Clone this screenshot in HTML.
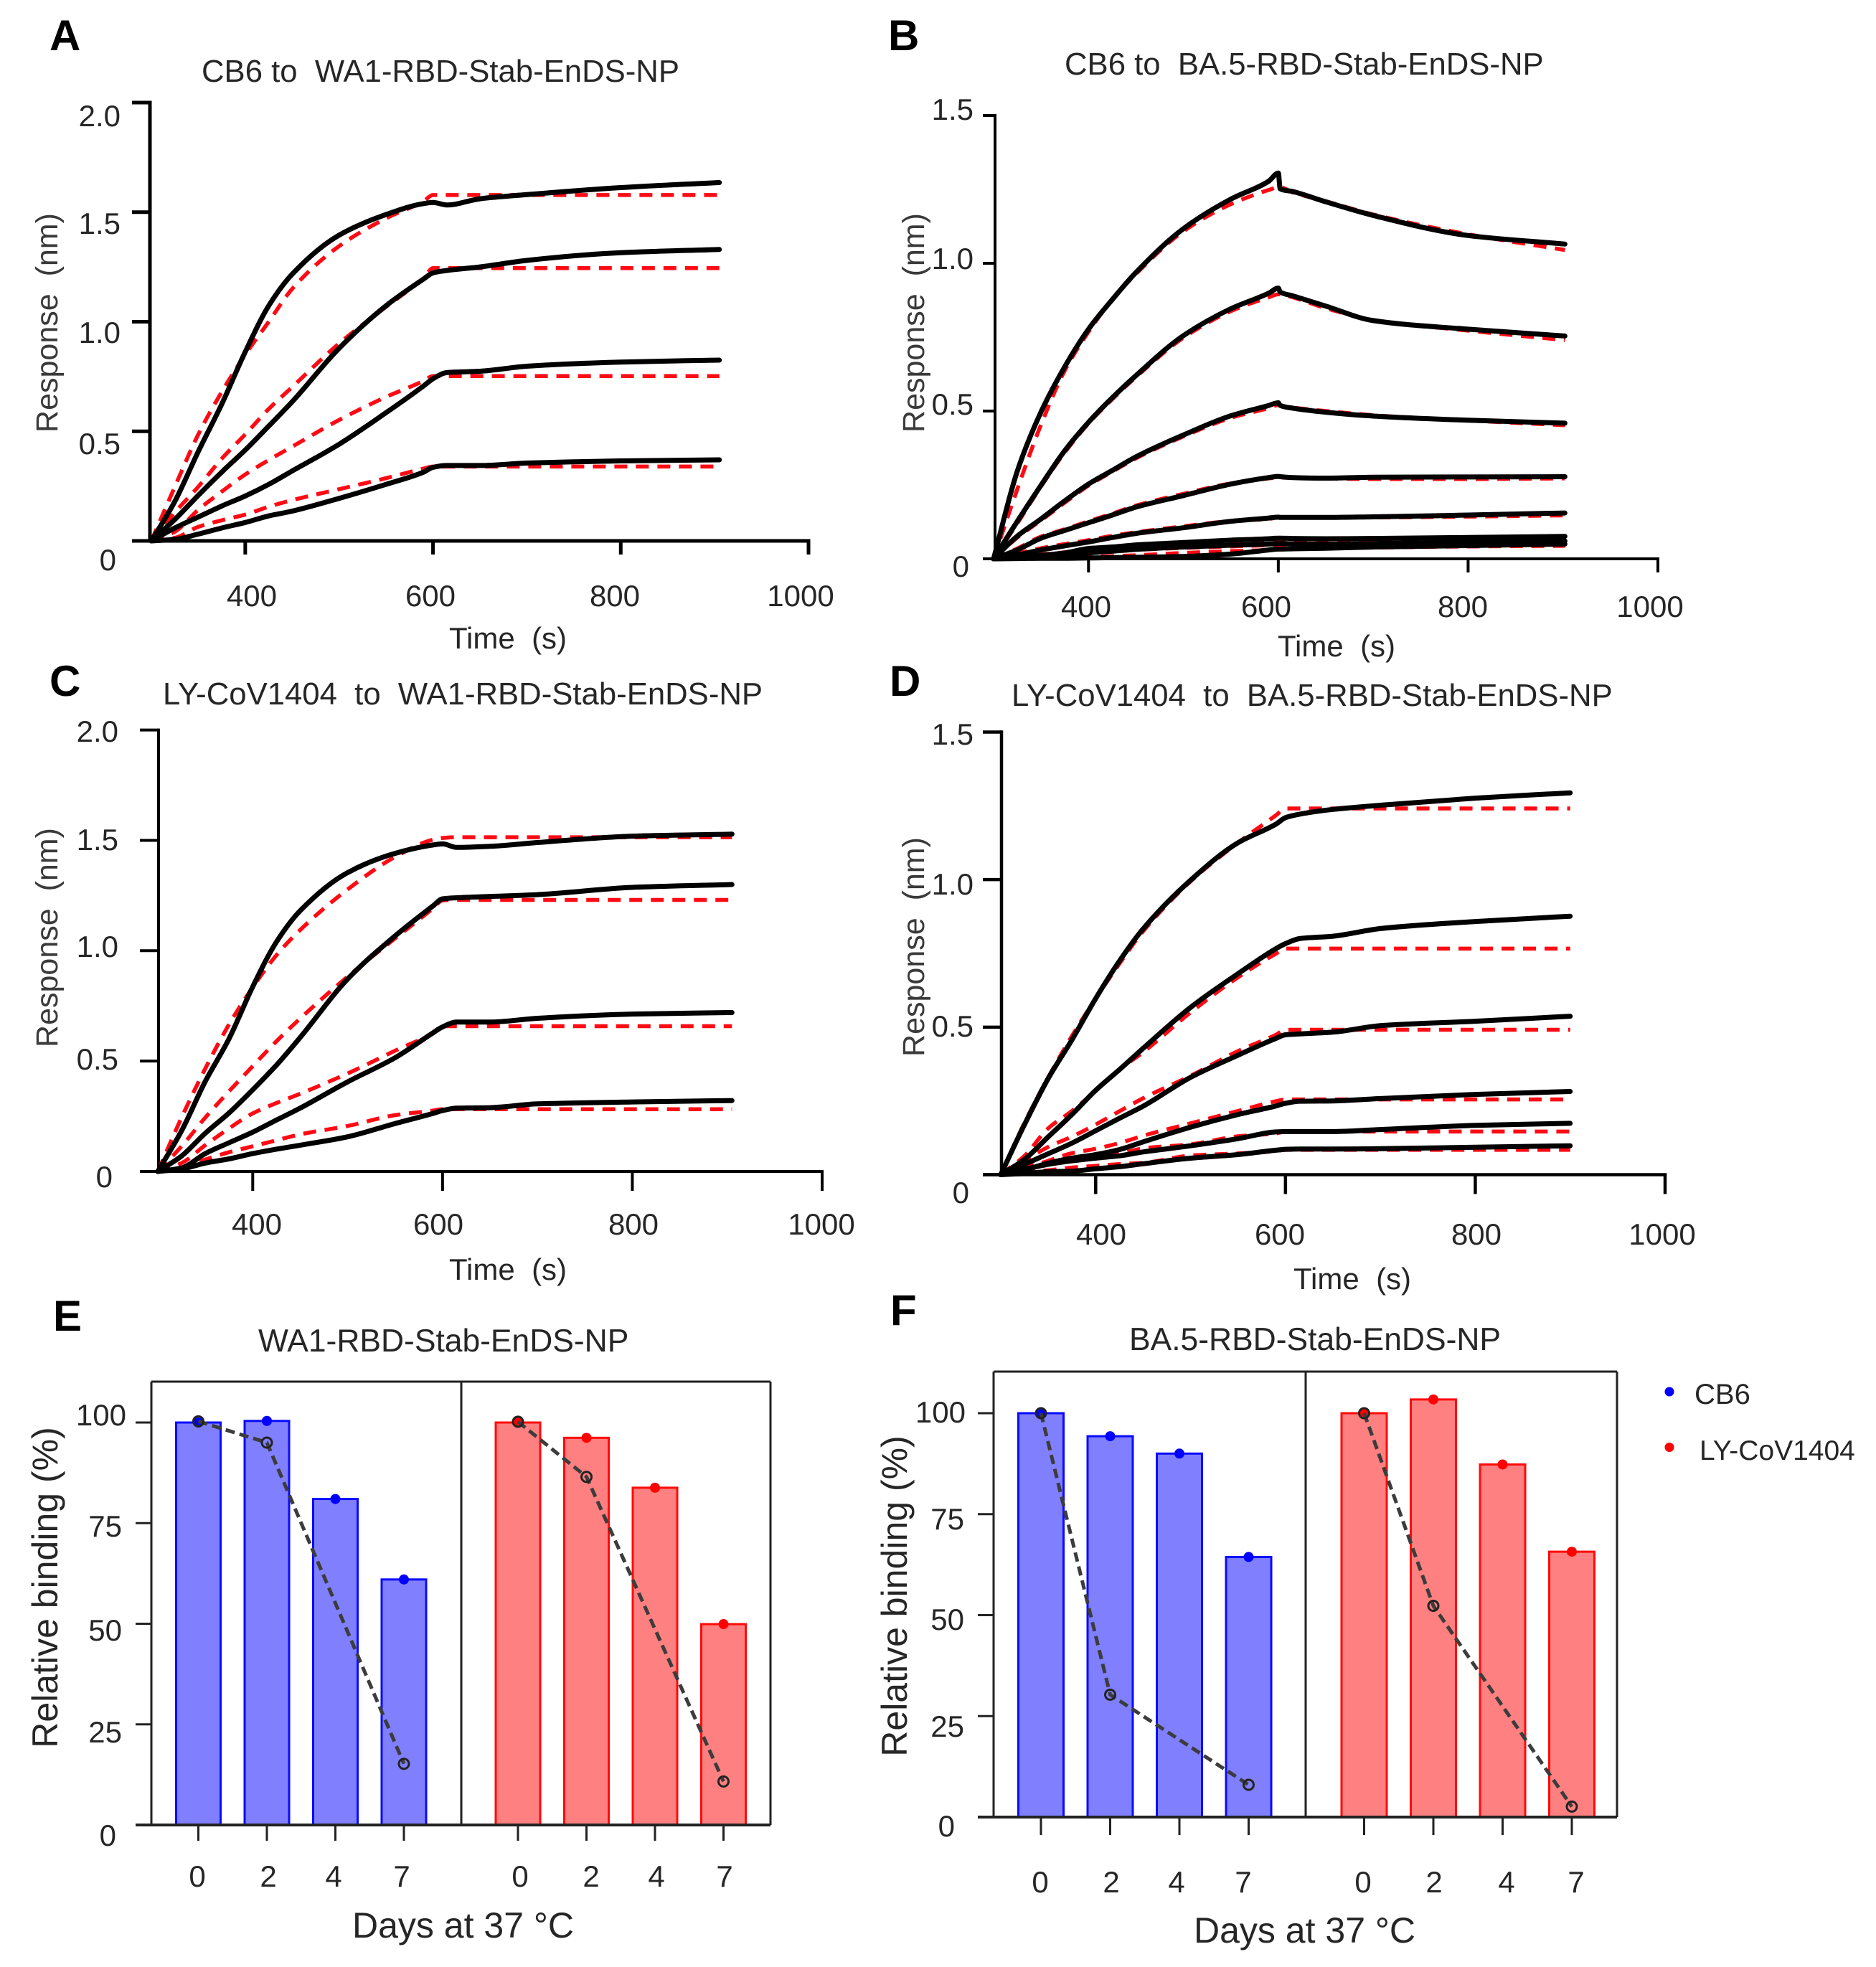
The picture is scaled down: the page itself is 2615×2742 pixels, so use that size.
<!DOCTYPE html>
<html lang="en">
<head>
<meta charset="utf-8">
<title>Antibody binding kinetics and stability of RBD nanoparticles</title>
<style>
html,body{margin:0;padding:0;background:#fff;}
#figure{display:block;width:2615px;height:2742px;background:#fff;}
text{font-family:"Liberation Sans",Arial,sans-serif;fill:#262626;white-space:pre;}
</style>
</head>
<body>
<svg id="figure" xmlns="http://www.w3.org/2000/svg" width="2615" height="2742" viewBox="0 0 2615 2742"></svg>
<script>
/* ---------- Kinetic data (time in s, response in nm) ---------- */
const timesA = [300,325,350,375,400,425,450,500,550,590,600,615,650,700,800,905];
const observedA = [
  [0,.18,.408,.624,.863,1.073,1.217,1.395,1.489,1.539,1.544,1.533,1.561,1.58,1.612,1.635],
  [0,.098,.208,.314,.415,.524,.635,.879,1.073,1.195,1.223,1.234,1.25,1.28,1.315,1.33],
  [0,.059,.109,.159,.205,.258,.319,.441,.585,.707,.74,.768,.774,.797,.816,.825],
  [0,.007,.031,.059,.084,.114,.136,.194,.258,.314,.336,.344,.344,.355,.365,.37]
];
const fitA = [
  [0,.247,.486,.68,.85,1.0,1.15,1.345,1.472,1.55,1.578,1.578,1.578,1.578,1.578,1.578],
  [0,.13,.247,.375,.486,.602,.702,.901,1.068,1.2,1.245,1.245,1.245,1.245,1.245,1.245],
  [0,.042,.142,.225,.303,.369,.43,.552,.657,.73,.752,.752,.752,.752,.752,.752],
  [0,.014,.064,.094,.12,.156,.186,.236,.286,.33,.339,.339,.339,.339,.339,.339]
];

const timesB = [300,325,350,375,400,425,450,500,550,590,600,602,615,650,700,800,902];
const observedB = [
  [0,.297,.497,.65,.777,.877,.969,1.117,1.217,1.278,1.305,1.252,1.243,1.208,1.162,1.094,1.065],
  [0,.127,.249,.366,.462,.545,.62,.755,.846,.899,.916,.903,.89,.855,.806,.777,.754],
  [0,.077,.135,.196,.253,.299,.345,.419,.484,.519,.528,.519,.51,.496,.483,.469,.459],
  [0,.03,.07,.096,.122,.148,.175,.214,.253,.275,.279,.278,.275,.273,.276,.277,.278],
  [0,.013,.03,.044,.057,.072,.086,.105,.127,.138,.141,.14,.14,.14,.142,.148,.155],
  [0,.006,.012,.02,.035,.04,.047,.055,.063,.068,.07,.07,.069,.068,.069,.072,.076],
  [0,.003,.006,.012,.02,.026,.032,.04,.046,.05,.052,.052,.051,.05,.052,.056,.06],
  [0,.001,.002,.002,.003,.004,.005,.008,.016,.03,.033,.033,.034,.036,.04,.045,.05]
];
const fitB = [
  [0,.236,.454,.637,.768,.877,.964,1.108,1.2,1.248,1.257,1.257,1.24,1.21,1.165,1.098,1.045],
  [0,.12,.245,.36,.458,.54,.615,.748,.838,.885,.895,.895,.885,.848,.808,.772,.74],
  [0,.072,.13,.19,.248,.295,.34,.414,.477,.51,.52,.518,.512,.5,.486,.468,.452],
  [0,.035,.075,.1,.127,.153,.18,.22,.255,.272,.275,.275,.274,.272,.27,.27,.272],
  [0,.018,.036,.05,.063,.078,.09,.11,.128,.135,.14,.14,.14,.14,.14,.143,.147],
  [0,.008,.015,.022,.03,.036,.043,.05,.056,.06,.062,.062,.062,.062,.062,.06,.058],
  [0,.004,.008,.014,.02,.024,.03,.037,.042,.046,.047,.047,.047,.047,.047,.05,.05],
  [0,.001,.002,.004,.006,.009,.012,.02,.026,.03,.034,.034,.034,.036,.038,.042,.044]
];

const timesC = [300,325,350,375,400,425,450,500,550,590,600,615,650,700,800,905];
const observedC = [
  [0,.184,.408,.601,.837,1.04,1.181,1.354,1.441,1.479,1.484,1.468,1.473,1.49,1.519,1.528],
  [0,.07,.173,.265,.37,.482,.607,.872,1.067,1.203,1.235,1.24,1.246,1.254,1.287,1.30],
  [0,.016,.081,.13,.178,.233,.287,.406,.515,.628,.655,.677,.677,.694,.713,.72],
  [0,.011,.038,.057,.081,.101,.119,.157,.217,.263,.276,.287,.289,.306,.315,.321]
];
const fitC = [
  [0,.244,.466,.666,.834,.98,1.094,1.278,1.425,1.503,1.511,1.514,1.514,1.514,1.514,1.514],
  [0,.114,.244,.363,.477,.59,.693,.883,1.056,1.192,1.228,1.23,1.23,1.23,1.23,1.23],
  [0,.038,.119,.195,.263,.31,.352,.444,.547,.628,.658,.658,.658,.658,.658,.658],
  [0,.016,.054,.087,.114,.141,.168,.206,.255,.276,.282,.282,.282,.282,.282,.282]
];

const timesD = [300,325,350,375,400,425,450,500,550,590,600,615,650,700,800,900];
const observedD = [
  [0,.17,.326,.457,.597,.724,.833,.998,1.125,1.188,1.21,1.222,1.238,1.252,1.276,1.294],
  [0,.052,.128,.204,.286,.356,.428,.567,.681,.766,.783,.8,.808,.834,.858,.876],
  [0,.035,.071,.107,.149,.191,.232,.33,.405,.462,.474,.477,.483,.505,.52,.537],
  [0,.016,.039,.056,.068,.085,.111,.161,.204,.233,.242,.249,.25,.258,.272,.282],
  [0,.018,.035,.047,.056,.064,.077,.098,.122,.145,.146,.146,.146,.153,.167,.174],
  [0,.004,.01,.012,.02,.027,.037,.056,.068,.083,.086,.087,.087,.088,.093,.098]
];
const fitD = [
  [0,.176,.33,.47,.597,.715,.825,.994,1.125,1.218,1.241,1.241,1.241,1.241,1.241,1.241],
  [0,.064,.157,.216,.284,.356,.415,.55,.669,.749,.766,.766,.766,.766,.766,.766],
  [0,.047,.094,.129,.17,.215,.259,.335,.419,.474,.491,.491,.491,.491,.491,.491],
  [0,.018,.047,.073,.088,.107,.132,.174,.216,.249,.255,.255,.255,.255,.255,.255],
  [0,.025,.045,.055,.064,.072,.089,.103,.13,.14,.146,.146,.146,.146,.146,.146],
  [0,.008,.015,.024,.03,.036,.04,.065,.072,.08,.084,.084,.084,.084,.084,.084]
];

/* ---------- Axis ticks ---------- */
const timeTicks = [400,600,800,1000];
const timeTickLabels = ['400','600','800','1000'];
const responseTicks2 = [0,0.5,1,1.5,2];
const responseTickLabels2 = ['0','0.5','1.0','1.5','2.0'];
const responseTicks15 = [0,0.5,1,1.5];
const responseTickLabels15 = ['0','0.5','1.0','1.5'];
const bindingTicks = [0,25,50,75,100];
const bindingTickLabels = ['0','25','50','75','100'];

/* ---------- Stability data (relative binding, %) ---------- */
const days = ['0','2','4','7'];
const barsECB6 = [100,100.4,81,61];
const barsELY = [100,96.2,83.8,49.9];
const lineECB6 = [100.3,95,null,15.2];
const lineELY = [100.2,86.5,null,10.8];
const barsFCB6 = [100,94.3,90,64.4];
const barsFLY = [100,103.4,87.3,65.7];
const lineFCB6 = [100,30.3,null,8];
const lineFLY = [100,52.3,null,2.6];

/* ---------- Drawing helpers ---------- */
const svg = document.getElementById('figure');
function mk(parent, tag, name, attrs) {
  const el = document.createElementNS('http://www.w3.org/2000/svg', tag);
  
  
  for (const k in attrs) el.setAttribute(k, attrs[k]);
  parent.appendChild(el);
  return el;
}
function label(parent, name, str, x, y, size, anchor, opts) {
  const o = opts || {};
  const a = {x: x, y: y, 'font-size': size, 'text-anchor': anchor || 'start'};
  if (o.weight) a['font-weight'] = o.weight;
  if (o.fill) a.style = 'fill:' + o.fill;
  if (o.rotate) a.transform = 'rotate(-90 ' + x + ' ' + y + ')';
  const t = mk(parent, 'text', name, a);
  t.textContent = str;
  return t;
}
function axisLine(parent, name, x1, y1, x2, y2, w, color) {
  return mk(parent, 'line', name, {x1: x1, y1: y1, x2: x2, y2: y2, stroke: color || '#000', 'stroke-width': w});
}
/* Monotone cubic path through the mapped data points (no overshoot at the kink). */
function smoothPath(xs, ys) {
  const n = xs.length, dx = [], m = [], tan = [];
  for (let i = 0; i < n - 1; i++) {
    dx[i] = xs[i + 1] - xs[i];
    m[i] = (ys[i + 1] - ys[i]) / dx[i];
  }
  tan[0] = m[0];
  tan[n - 1] = m[n - 2];
  for (let i = 1; i < n - 1; i++) {
    if (m[i - 1] * m[i] <= 0) { tan[i] = 0; continue; }
    const w1 = 2 * dx[i] + dx[i - 1], w2 = dx[i] + 2 * dx[i - 1];
    tan[i] = (w1 + w2) / (w1 / m[i - 1] + w2 / m[i]);
  }
  let d = 'M' + xs[0].toFixed(1) + ' ' + ys[0].toFixed(1);
  for (let i = 0; i < n - 1; i++) {
    const h = dx[i] / 3;
    d += 'C' + (xs[i] + h).toFixed(1) + ' ' + (ys[i] + tan[i] * h).toFixed(1) + ' ' +
         (xs[i + 1] - h).toFixed(1) + ' ' + (ys[i + 1] - tan[i + 1] * h).toFixed(1) + ' ' +
         xs[i + 1].toFixed(1) + ' ' + ys[i + 1].toFixed(1);
  }
  return d;
}

/* ---------- Kinetic panels ---------- */
function kineticPanel(p) {
  const g = mk(svg, 'g', 'panel-' + p.id, {});
  const sx = t => p.x300 + (t - 300) * (p.x1000 - p.x300) / 700;
  const sy = v => p.y0 - v * (p.y0 - p.yTop) / p.yMax;

  label(g, 'panel-letter-' + p.id, p.id.toUpperCase(), p.letter[0], p.letter[1], 60, 'start', {weight: 'bold', fill: '#000'});
  label(g, 'chart-title', p.title, p.titlePos[0], p.titlePos[1], 43.7, 'start');

  axisLine(g, 'y-axis', sx(300) + p.axisNudge, p.yTop - p.w / 2, sx(300) + p.axisNudge, p.y0, p.w);
  axisLine(g, 'x-axis', p.leftEnd, p.y0, sx(1000) + p.w / 2, p.y0, p.w);

  p.yTicks.forEach((v, i) => {
    axisLine(g, 'y-tick', p.leftEnd, sy(v), sx(300) + p.axisNudge, sy(v), p.w);
    label(g, 'y-tick-label', p.yLabels[i], p.yLabelRight[i], p.yLabelBase[i], 42, 'end');
  });
  timeTicks.forEach((t, i) => {
    axisLine(g, 'x-tick', sx(t), p.y0, sx(t), p.y0 + p.xTickLen, p.w);
    label(g, 'x-tick-label', timeTickLabels[i], p.xLabelCenter[i], p.xLabelBase, 42, 'middle');
  });
  label(g, 'x-axis-title', 'Time  (s)', p.xTitle[0], p.xTitle[1], 42, 'middle');
  label(g, 'y-axis-title', 'Response  (nm)', p.yTitle[0], p.yTitle[1], 43, 'middle', {rotate: true, fill: '#3a3a3a'});

  const xs = p.times.map(sx);
  p.fit.forEach((vals, i) => {
    mk(g, 'path', 'fit-curve-' + (i + 1), {d: smoothPath(xs, vals.map(sy)), fill: 'none', stroke: '#ff0a14', 'stroke-width': 5.5, 'stroke-dasharray': '18 12'});
  });
  p.observed.forEach((vals, i) => {
    mk(g, 'path', 'observed-curve-' + (i + 1), {d: smoothPath(xs, vals.map(sy)), fill: 'none', stroke: '#000', 'stroke-width': 7, 'stroke-linejoin': 'round', 'stroke-linecap': 'round'});
  });
}

kineticPanel({id: 'a', title: 'CB6 to  WA1-RBD-Stab-EnDS-NP', letter: [69, 70], titlePos: [281, 114],
  x300: 211, x1000: 1127, y0: 754, yTop: 143, yMax: 2, w: 5, axisNudge: -2, leftEnd: 184, xTickLen: 19,
  yTicks: responseTicks2, yLabels: responseTickLabels2,
  yLabelRight: [162, 168, 168, 168, 168], yLabelBase: [795, 633, 478, 326, 176],
  xLabelCenter: [351, 600, 857, 1116], xLabelBase: 845, xTitle: [708, 904], yTitle: [80, 450],
  times: timesA, observed: observedA, fit: fitA});

kineticPanel({id: 'b', title: 'CB6 to  BA.5-RBD-Stab-EnDS-NP', letter: [1238, 70], titlePos: [1484, 104],
  x300: 1385, x1000: 2311, y0: 779, yTop: 161, yMax: 1.5, w: 4, axisNudge: 2, leftEnd: 1370, xTickLen: 19,
  yTicks: responseTicks15, yLabels: responseTickLabels15,
  yLabelRight: [1351, 1357, 1357, 1357], yLabelBase: [804, 578, 375, 167],
  xLabelCenter: [1514, 1765, 2039, 2300], xLabelBase: 860, xTitle: [1863, 915], yTitle: [1288, 450],
  times: timesB, observed: observedB, fit: fitB});

kineticPanel({id: 'c', title: 'LY-CoV1404  to  WA1-RBD-Stab-EnDS-NP', letter: [69, 970], titlePos: [227, 982],
  x300: 220, x1000: 1146, y0: 1633, yTop: 1017.6, yMax: 2, w: 4, axisNudge: 1, leftEnd: 195, xTickLen: 27,
  yTicks: responseTicks2, yLabels: responseTickLabels2,
  yLabelRight: [157, 165, 165, 165, 165], yLabelBase: [1655, 1491, 1334, 1185, 1034],
  xLabelCenter: [358, 611, 883, 1145], xLabelBase: 1721, xTitle: [708, 1784], yTitle: [80, 1307],
  times: timesC, observed: observedC, fit: fitC});

kineticPanel({id: 'd', title: 'LY-CoV1404  to  BA.5-RBD-Stab-EnDS-NP', letter: [1240, 970], titlePos: [1410, 984],
  x300: 1395, x1000: 2321, y0: 1637.5, yTop: 1020.5, yMax: 1.5, w: 4.5, axisNudge: 1, leftEnd: 1370, xTickLen: 27,
  yTicks: responseTicks15, yLabels: responseTickLabels15,
  yLabelRight: [1351, 1357, 1357, 1357], yLabelBase: [1677, 1445, 1247, 1038],
  xLabelCenter: [1535, 1784, 2058, 2317], xLabelBase: 1735, xTitle: [1885, 1797], yTitle: [1288, 1320],
  times: timesD, observed: observedD, fit: fitD});

/* ---------- Bar panels ---------- */
function barPanel(p) {
  const g = mk(svg, 'g', 'panel-' + p.id, {});
  const sy = v => p.y0 - v * p.pxPerPct;
  const groups = [
    {key: 'cb6', first: p.firstCB6, bars: p.barsCB6, line: p.lineCB6, stroke: '#0a0aff', fill: '#8080ff', dot: '#0000ff'},
    {key: 'ly-cov1404', first: p.firstLY, bars: p.barsLY, line: p.lineLY, stroke: '#ff0a0a', fill: '#ff8080', dot: '#ff0000'}
  ];
  const cx = (grp, i) => grp.first + i * p.step;

  label(g, 'panel-letter-' + p.id, p.id.toUpperCase(), p.letter[0], p.letter[1], 60, 'start', {weight: 'bold', fill: '#000'});
  label(g, 'chart-title', p.title, p.titlePos[0], p.titlePos[1], 44.4, 'start');

  groups.forEach(grp => {
    grp.bars.forEach((v, i) => {
      mk(g, 'rect', 'bar-' + grp.key + '-day-' + days[i], {x: cx(grp, i) - p.barW / 2, y: sy(v), width: p.barW, height: p.y0 - sy(v), fill: grp.fill, stroke: grp.stroke, 'stroke-width': 3});
    });
  });

  axisLine(g, 'frame-top', p.left, p.top, p.right, p.top, 3, '#222');
  axisLine(g, 'frame-left', p.left, p.top, p.left, p.y0, 3, '#222');
  axisLine(g, 'frame-right', p.right, p.top, p.right, p.y0, 3, '#222');
  axisLine(g, 'frame-divider', p.divider, p.top, p.divider, p.y0, 3, '#222');
  axisLine(g, 'x-axis', p.leftEnd, p.y0, p.right, p.y0, 4, '#222');

  bindingTicks.forEach((v, i) => {
    axisLine(g, 'y-tick', p.leftEnd, sy(v), p.left, sy(v), 3, '#222');
    label(g, 'y-tick-label', bindingTickLabels[i], p.yLabelRight[i], p.yLabelBase[i], 42, 'end');
  });

  groups.forEach((grp, gi) => {
    days.forEach((d, i) => {
      axisLine(g, 'x-tick', cx(grp, i), p.y0, cx(grp, i), p.y0 + p.tickLen, 3, '#222');
      label(g, 'x-tick-label', d, p.dayLabels[gi][i], p.dayBase, 42, 'middle');
    });
    grp.bars.forEach((v, i) => {
      mk(g, 'circle', 'bar-point-' + grp.key + '-day-' + days[i], {cx: cx(grp, i), cy: sy(v), r: 7, fill: grp.dot});
    });
  });

  groups.forEach(grp => {
    const pts = [];
    grp.line.forEach((v, i) => { if (v !== null) pts.push(cx(grp, i).toFixed(1) + ',' + sy(v).toFixed(1)); });
    mk(g, 'polyline', 'decay-line-' + grp.key, {points: pts.join(' '), fill: 'none', stroke: '#3c3c3c', 'stroke-width': 5, 'stroke-dasharray': '13 7'});
    grp.line.forEach((v, i) => {
      if (v === null) return;
      mk(g, 'circle', 'decay-point-' + grp.key + '-day-' + days[i], {cx: cx(grp, i), cy: sy(v), r: 7, fill: 'none', stroke: '#222', 'stroke-width': 3});
    });
  });

  label(g, 'x-axis-title', 'Days at 37 °C', p.xTitle[0], p.xTitle[1], 50, 'start');
  label(g, 'y-axis-title', 'Relative binding (%)', p.yTitle[0], p.yTitle[1], 50, 'middle', {rotate: true});
}

barPanel({id: 'e', title: 'WA1-RBD-Stab-EnDS-NP', letter: [74, 1855], titlePos: [360, 1884],
  y0: 2544, pxPerPct: 5.61, top: 1926, left: 211, divider: 643, right: 1074, leftEnd: 189,
  firstCB6: 276.5, firstLY: 722, step: 95.5, barW: 62, tickLen: 22,
  barsCB6: barsECB6, barsLY: barsELY, lineCB6: lineECB6, lineLY: lineELY,
  yLabelRight: [162, 170, 170, 170, 176], yLabelBase: [2573, 2429, 2287, 2142, 1987],
  dayLabels: [[275, 374, 465, 560], [725, 824, 915, 1010]], dayBase: 2630,
  xTitle: [491, 2701], yTitle: [80, 2213]});

barPanel({id: 'f', title: 'BA.5-RBD-Stab-EnDS-NP', letter: [1241, 1847], titlePos: [1574, 1882],
  y0: 2533, pxPerPct: 5.63, top: 1912, left: 1385, divider: 1820, right: 2254, leftEnd: 1363,
  firstCB6: 1451, firstLY: 1901.5, step: 96.5, barW: 63, tickLen: 25,
  barsCB6: barsFCB6, barsLY: barsFLY, lineCB6: lineFCB6, lineLY: lineFLY,
  yLabelRight: [1331, 1344, 1344, 1344, 1346], yLabelBase: [2560, 2421, 2272, 2132, 1983],
  dayLabels: [[1450, 1549, 1640, 1733], [1900, 1999, 2100, 2197]], dayBase: 2638,
  xTitle: [1664, 2708], yTitle: [1264, 2225]});

/* ---------- Legend ---------- */
const legend = mk(svg, 'g', 'legend', {});
mk(legend, 'circle', 'legend-marker-cb6', {cx: 2327, cy: 1940, r: 6.5, fill: '#0000ff'});
label(legend, 'legend-label-cb6', 'CB6', 2362, 1957, 40, 'start');
mk(legend, 'circle', 'legend-marker-ly-cov1404', {cx: 2327, cy: 2017.5, r: 6.5, fill: '#ff0000'});
label(legend, 'legend-label-ly-cov1404', 'LY-CoV1404', 2369, 2035, 39, 'start');
</script>
</body>
</html>
